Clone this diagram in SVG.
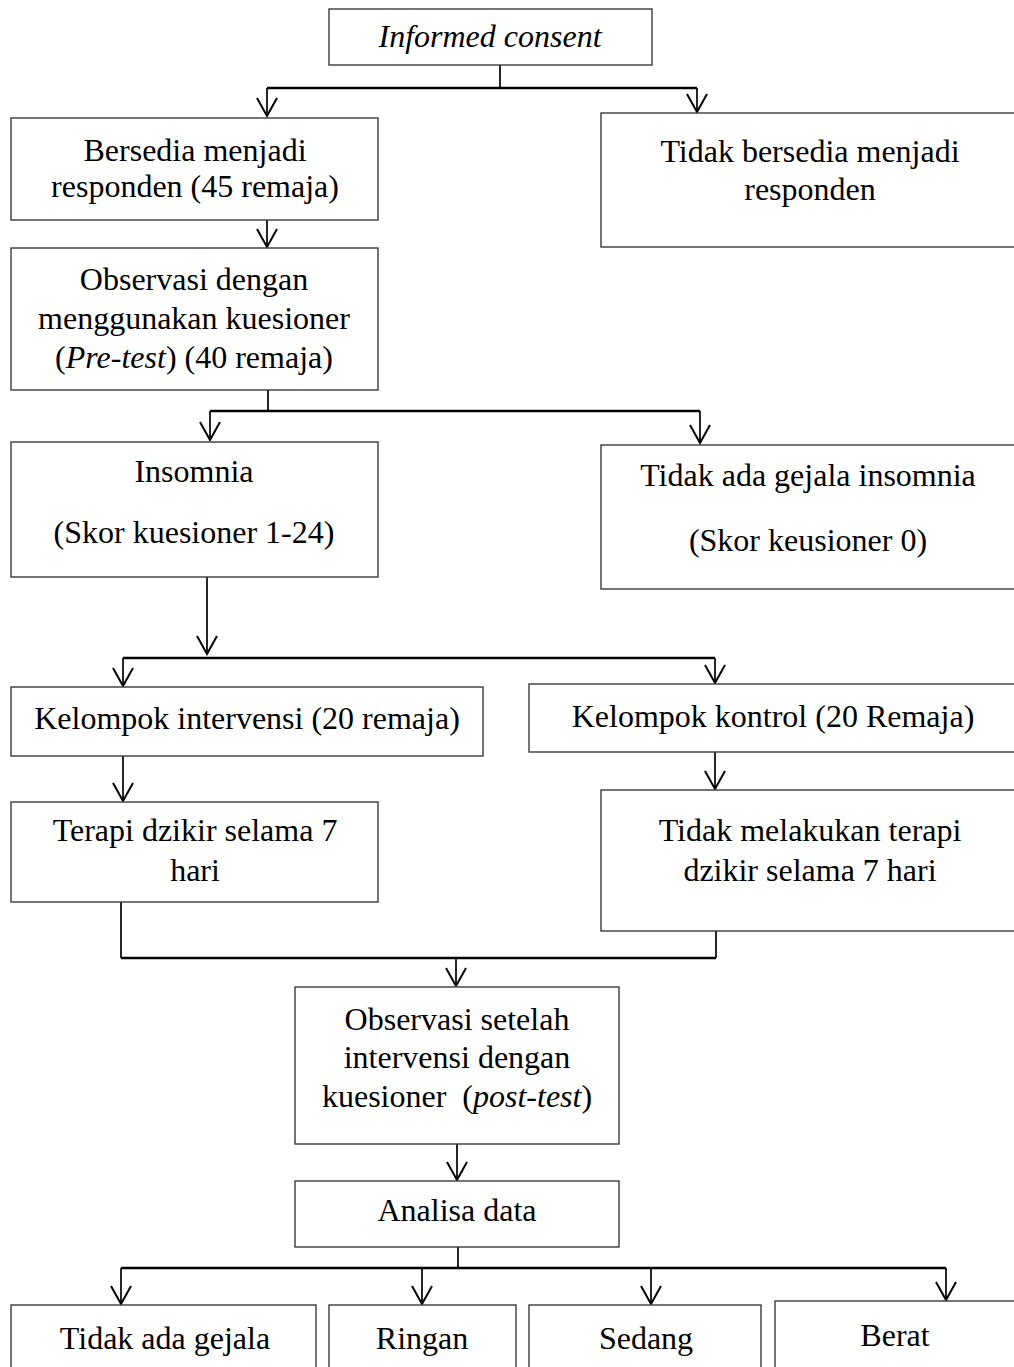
<svg xmlns="http://www.w3.org/2000/svg" width="1014" height="1367" viewBox="0 0 1014 1367">
<style>
.box{fill:#fff;stroke:#3a3a3a;stroke-width:1.4}
text{font-family:"Liberation Serif","Times New Roman",serif;font-size:32px;fill:#000;text-anchor:middle}
.it{font-style:italic}
.ln{fill:none;stroke:#000;stroke-width:1.7}
.hz{fill:none;stroke:#000;stroke-width:2.3}
.ar{fill:none;stroke:#000;stroke-width:1.7;marker-end:url(#v)}
</style>
<defs>
<marker id="v" markerUnits="userSpaceOnUse" viewBox="-21 -12 23 24" markerWidth="23" markerHeight="24" refX="0" refY="0" orient="auto" overflow="visible">
<path d="M-18,-10 L0,0 L-18,10" fill="none" stroke="#000" stroke-width="2"/>
</marker>
</defs>
<rect width="1014" height="1367" fill="#fff"/>
<g id="connectors">
<path class="ln" d="M500,65 V88"/>
<path class="hz" d="M267,88 H697"/>
<path class="ar" d="M267,88 V116"/>
<path class="ar" d="M697,88 V112"/>
<path class="ar" d="M267,220 V247"/>
<path class="ln" d="M268,390 V411"/>
<path class="hz" d="M210,411 H700"/>
<path class="ar" d="M210,411 V440"/>
<path class="ar" d="M700,411 V443"/>
<path class="ar" d="M207,577 V654"/>
<path class="hz" d="M123,658 H715"/>
<path class="ar" d="M123,658 V686"/>
<path class="ar" d="M715,658 V683"/>
<path class="ar" d="M123,756 V801"/>
<path class="ar" d="M715,752 V789"/>
<path class="ln" d="M121,902 V958"/>
<path class="ln" d="M716,931 V958"/>
<path class="hz" d="M121,958 H716"/>
<path class="ar" d="M456,958 V986"/>
<path class="ar" d="M457,1144 V1180"/>
<path class="ln" d="M458,1247 V1268"/>
<path class="hz" d="M121,1268 H946"/>
<path class="ar" d="M121,1268 V1304"/>
<path class="ar" d="M422,1268 V1304"/>
<path class="ar" d="M651,1268 V1304"/>
<path class="ar" d="M946,1268 V1300"/>
</g>
<g id="n-informed"><rect class="box" x="329" y="9" width="323" height="56"/><text x="490" y="47" class="it">Informed consent</text></g>
<g id="n-bersedia"><rect class="box" x="11" y="118" width="367" height="102"/><text x="195" y="161">Bersedia menjadi</text><text x="195" y="197">responden (45 remaja)</text></g>
<g id="n-tidak-bersedia"><rect class="box" x="601" y="113" width="414" height="134"/><text x="810" y="162">Tidak bersedia menjadi</text><text x="810" y="200">responden</text></g>
<g id="n-pretest"><rect class="box" x="11" y="248" width="367" height="142"/><text x="194" y="290">Observasi dengan</text><text x="194" y="329">menggunakan kuesioner</text><text x="194" y="368">(<tspan class="it">Pre-test</tspan>) (40 remaja)</text></g>
<g id="n-insomnia"><rect class="box" x="11" y="442" width="367" height="135"/><text x="194" y="482">Insomnia</text><text x="194" y="543">(Skor kuesioner 1-24)</text></g>
<g id="n-tidak-insomnia"><rect class="box" x="601" y="445" width="414" height="144"/><text x="808" y="486">Tidak ada gejala insomnia</text><text x="808" y="551">(Skor keusioner 0)</text></g>
<g id="n-intervensi"><rect class="box" x="11" y="687" width="472" height="69"/><text x="247" y="729">Kelompok intervensi (20 remaja)</text></g>
<g id="n-kontrol"><rect class="box" x="529" y="684" width="486" height="68"/><text x="773" y="727">Kelompok kontrol (20 Remaja)</text></g>
<g id="n-terapi"><rect class="box" x="11" y="802" width="367" height="100"/><text x="195" y="841">Terapi dzikir selama 7</text><text x="195" y="881">hari</text></g>
<g id="n-tidak-terapi"><rect class="box" x="601" y="790" width="414" height="141"/><text x="810" y="841">Tidak melakukan terapi</text><text x="810" y="881">dzikir selama 7 hari</text></g>
<g id="n-posttest"><rect class="box" x="295" y="987" width="324" height="157"/><text x="457" y="1030">Observasi setelah</text><text x="457" y="1068">intervensi dengan</text><text x="457" y="1107">kuesioner&#160; (<tspan class="it">post-test</tspan>)</text></g>
<g id="n-analisa"><rect class="box" x="295" y="1181" width="324" height="66"/><text x="457" y="1221">Analisa data</text></g>
<g id="n-tidak-gejala"><rect class="box" x="11" y="1305" width="305" height="70"/><text x="165" y="1349">Tidak ada gejala</text></g>
<g id="n-ringan"><rect class="box" x="329" y="1305" width="187" height="70"/><text x="422" y="1349">Ringan</text></g>
<g id="n-sedang"><rect class="box" x="529" y="1305" width="232" height="70"/><text x="646" y="1349">Sedang</text></g>
<g id="n-berat"><rect class="box" x="775" y="1301" width="240" height="74"/><text x="895" y="1346">Berat</text></g>
</svg>
